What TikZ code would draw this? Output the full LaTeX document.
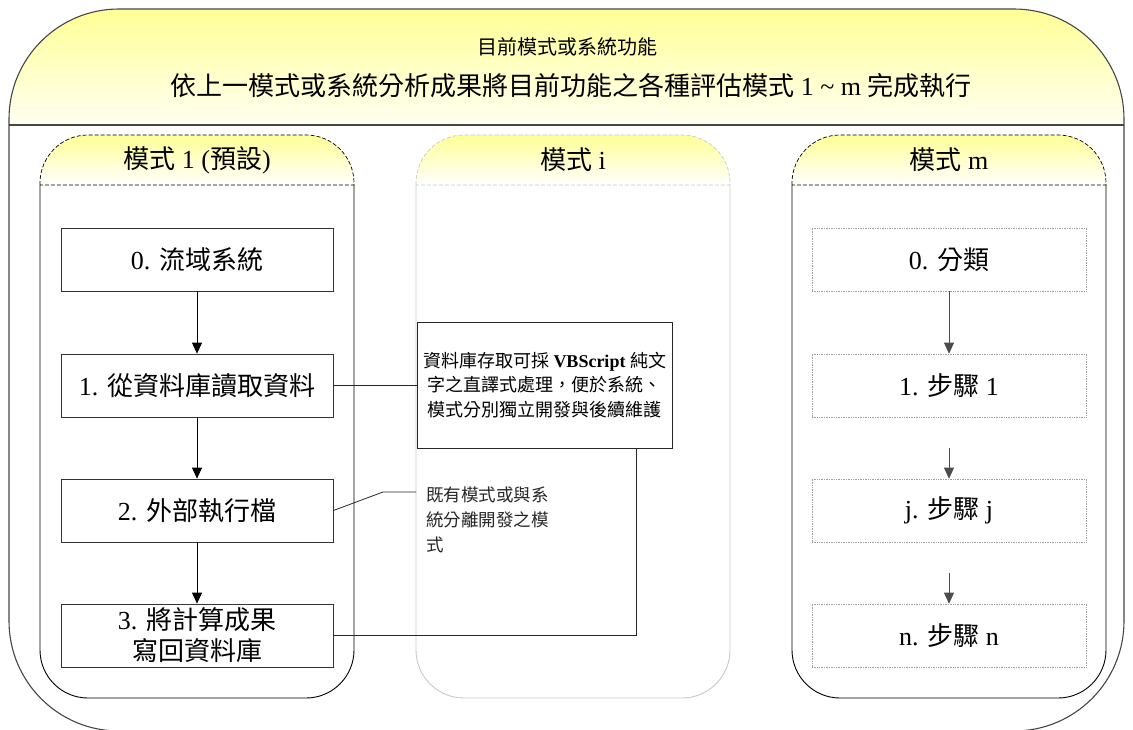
\documentclass[tikz,border=0pt]{standalone}
\usepackage{fontspec}
\setmainfont{Liberation Serif}
\newfontfamily\cjk{Noto Sans CJK TC}
\usetikzlibrary{arrows.meta}
\definecolor{hdrY}{RGB}{255,255,150}
\definecolor{hdrW}{RGB}{255,255,242}
\definecolor{laneI}{RGB}{200,200,200}
\definecolor{outerC}{RGB}{70,70,70}
\definecolor{mgray}{RGB}{160,160,160}
\begin{document}
\begin{tikzpicture}[x=1pt,y=-1pt,
  box/.style={draw=black!80, line width=0.8pt, fill=white, minimum width=272pt, minimum height=63pt,
    inner sep=0pt, align=center, font=\fontsize{26}{31}\selectfont},
  mbox/.style={draw=mgray, densely dotted, line width=0.7pt, fill=white, minimum width=274pt, minimum height=63pt,
    inner sep=0pt, align=center, font=\fontsize{26}{31}\selectfont},
  arr/.style={-{Triangle[length=11pt,width=10pt]}, line width=0.8pt, black},
  marr/.style={-{Triangle[length=11pt,width=10pt]}, line width=0.8pt, black!70},
  link/.style={line width=0.8pt, black!85},
  lanetitle/.style={font=\fontsize{26}{30}\selectfont, inner sep=0pt},
]
\useasboundingbox (0,0) rectangle (1133,729);
% outer container
\shade[top color=hdrY, bottom color=hdrW] (9,125) -- (9,119) arc[start angle=180,end angle=270,radius=110]
  -- (1014,9) arc[start angle=270,end angle=360,radius=110] -- (1124,125) -- cycle;
\draw[outerC, line width=1.1pt, rounded corners=110pt] (9,9) rectangle (1124,731);
\draw[outerC, line width=1.8pt] (9,125) -- (1124,125);
\node[font=\fontsize{20}{24}\selectfont, inner sep=0pt] (title) at (567,47) {\cjk 目前模式或系統功能};
\node[font=\fontsize{26}{30}\selectfont, inner sep=0pt] (subtitle) at (571,86)
  {{\cjk 依上一模式或系統分析成果將目前功能之各種評估模式} 1 \textasciitilde{} m {\cjk 完成執行}};
% lanes
\foreach \l/\r/\c in {40/354/black, 416/730/laneI, 792/1106/black}{
  \shade[top color=hdrY, bottom color=white] (\l,185) -- (\l,183) arc[start angle=180,end angle=270,radius=48]
    -- ({\r-48},135) arc[start angle=270,end angle=360,radius=48] -- (\r,185) -- cycle;
  \draw[\c, dash pattern=on 4pt off 2pt, line width=0.7pt] (\l,185) -- (\l,183) arc[start angle=180,end angle=270,radius=48]
    -- ({\r-48},135) arc[start angle=270,end angle=360,radius=48] -- (\r,185) -- cycle;
  \draw[\c, line width=0.9pt] (\l,185) -- (\l,650) arc[start angle=180,end angle=90,radius=48]
    -- ({\r-48},698) arc[start angle=90,end angle=0,radius=48] -- (\r,185);
}
\node[lanetitle] (t1) at (197,160) {{\cjk 模式} 1 ({\cjk 預設})};
\node[lanetitle] (ti) at (573,160) {{\cjk 模式} i};
\node[lanetitle] (tm) at (949,160) {{\cjk 模式} m};
% note box
\node[draw=black!85, fill=white, line width=0.9pt, minimum width=255pt, minimum height=126pt, inner sep=0pt,
  align=center, font=\fontsize{18}{24.5}\selectfont] (note) at (544.5,385)
  {{\cjk 資料庫存取可採} \textbf{VBScript} {\cjk 純文}\\{\cjk 字之直譯式處理，便於系統、}\\{\cjk 模式分別獨立開發與後續維護}};
\node[anchor=north west, align=left, inner sep=0pt, text=black!85, font=\fontsize{17.5}{25}\selectfont] (ann) at (426,487)
  {{\cjk 既有模式或與系}\\{\cjk 統分離開發之模}\\{\cjk 式}};
% lane 1 boxes
\node[box] (a0) at (197,259.5) {0. {\cjk 流域系統}};
\node[box] (a1) at (197,385.5) {1. {\cjk 從資料庫讀取資料}};
\node[box] (a2) at (197,510.5) {2. {\cjk 外部執行檔}};
\node[box] (a3) at (197,635.5) {3. {\cjk 將計算成果}\\{\cjk 寫回資料庫}};
% lane m boxes
\node[mbox] (m0) at (949,259.5) {0. {\cjk 分類}};
\node[mbox] (m1) at (949,385.5) {1. {\cjk 步驟} 1};
\node[mbox] (mj) at (949,510.5) {j. {\cjk 步驟} j};
\node[mbox] (mn) at (949,635.5) {n. {\cjk 步驟} n};
% connectors
\draw[arr] (a0.south) -- (a1.north);
\draw[arr] (a1.south) -- (a2.north);
\draw[arr] (a2.south) -- (a3.north);
\draw[marr] (m0.south) -- (m1.north);
\coordinate (s1) at (949,448);
\coordinate (s2) at (949,573);
\draw[marr] (s1) -- (mj.north);
\draw[marr] (s2) -- (mn.north);
\draw[link] (a1.east) -- (a1.east -| note.west);
\coordinate (k2) at (383,492);
\coordinate (annpt) at (416,492);
\draw[link] (a2.east) -- (k2) -- (annpt);
\coordinate (k3) at (636,635.5);
\draw[link] (a3.east) -- (k3) -- (k3 |- note.south);
\end{tikzpicture}
\end{document}
